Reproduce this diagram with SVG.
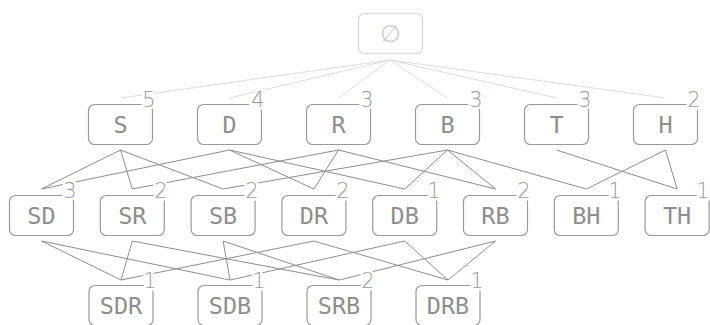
<svg xmlns="http://www.w3.org/2000/svg" width="710" height="325" viewBox="0 0 710 325">
<style>
.box{fill:none;stroke:#9a9a9a;stroke-width:1.2}
.top{fill:none;stroke:#d8d8d8;stroke-width:1.2}
.lbl{font-family:"DejaVu Sans Mono","Liberation Mono",monospace;font-size:23.5px;fill:#8e8e8e;text-anchor:middle}
.tlbl{font-family:"DejaVu Sans","Liberation Sans",sans-serif;font-size:24px;fill:#cfcfcf;text-anchor:middle;font-weight:200}
.num{font-family:"DejaVu Sans","Liberation Sans",sans-serif;font-size:21px;fill:#999;text-anchor:middle;font-weight:200;stroke:#fff;stroke-width:5;paint-order:stroke}
.e{stroke:#8c8c8c;stroke-width:1;fill:none}
.et{stroke:#dcdcdc;stroke-width:1;fill:none}
</style>
<rect width="710" height="325" fill="#fff"/>
<g id="connectors">
<g class="et">
<line x1="390" y1="60" x2="120.5" y2="98"/>
<line x1="390" y1="60" x2="229.5" y2="98"/>
<line x1="390" y1="60" x2="338.5" y2="98"/>
<line x1="390" y1="60" x2="447.5" y2="98"/>
<line x1="390" y1="60" x2="556.5" y2="98"/>
<line x1="390" y1="60" x2="665.5" y2="98"/>
</g>
<g class="e">
<line x1="120.5" y1="150" x2="41.5" y2="189"/>
<line x1="120.5" y1="150" x2="132.3" y2="189"/>
<line x1="120.5" y1="150" x2="223.1" y2="189"/>
<line x1="229.5" y1="150" x2="41.5" y2="189"/>
<line x1="229.5" y1="150" x2="313.9" y2="189"/>
<line x1="229.5" y1="150" x2="404.7" y2="189"/>
<line x1="338.5" y1="150" x2="132.3" y2="189"/>
<line x1="338.5" y1="150" x2="313.9" y2="189"/>
<line x1="338.5" y1="150" x2="495.5" y2="189"/>
<line x1="447.5" y1="150" x2="223.1" y2="189"/>
<line x1="447.5" y1="150" x2="404.7" y2="189"/>
<line x1="447.5" y1="150" x2="495.5" y2="189"/>
<line x1="447.5" y1="150" x2="586.3" y2="189"/>
<line x1="556.5" y1="150" x2="677.1" y2="189"/>
<line x1="665.5" y1="150" x2="586.3" y2="189"/>
<line x1="665.5" y1="150" x2="677.1" y2="189"/>
<line x1="41.5" y1="241" x2="121" y2="280"/>
<line x1="41.5" y1="241" x2="230" y2="280"/>
<line x1="132.3" y1="241" x2="121" y2="280"/>
<line x1="132.3" y1="241" x2="339" y2="280"/>
<line x1="223.1" y1="241" x2="230" y2="280"/>
<line x1="223.1" y1="241" x2="339" y2="280"/>
<line x1="313.9" y1="241" x2="121" y2="280"/>
<line x1="313.9" y1="241" x2="448" y2="280"/>
<line x1="404.7" y1="241" x2="230" y2="280"/>
<line x1="404.7" y1="241" x2="448" y2="280"/>
<line x1="495.5" y1="241" x2="339" y2="280"/>
<line x1="495.5" y1="241" x2="448" y2="280"/>
</g>
</g>
<g id="n-empty"><rect class="top" x="358.5" y="13.5" width="64" height="40" rx="6"/><text class="tlbl" x="390" y="42">∅</text></g>
<g id="n-S"><rect class="box" x="88.5" y="104.5" width="64" height="40" rx="6"/><text class="lbl" x="120.5" y="133">S</text><text class="num" x="149" y="107">5</text></g>
<g id="n-D"><rect class="box" x="197.5" y="104.5" width="64" height="40" rx="6"/><text class="lbl" x="229.5" y="133">D</text><text class="num" x="258" y="107">4</text></g>
<g id="n-R"><rect class="box" x="306.5" y="104.5" width="64" height="40" rx="6"/><text class="lbl" x="338.5" y="133">R</text><text class="num" x="367" y="107">3</text></g>
<g id="n-B"><rect class="box" x="415.5" y="104.5" width="64" height="40" rx="6"/><text class="lbl" x="447.5" y="133">B</text><text class="num" x="476" y="107">3</text></g>
<g id="n-T"><rect class="box" x="524.5" y="104.5" width="64" height="40" rx="6"/><text class="lbl" x="556.5" y="133">T</text><text class="num" x="585" y="107">3</text></g>
<g id="n-H"><rect class="box" x="633.5" y="104.5" width="64" height="40" rx="6"/><text class="lbl" x="665.5" y="133">H</text><text class="num" x="694" y="107">2</text></g>
<g id="n-SD"><rect class="box" x="9.5" y="195.5" width="64" height="40" rx="6"/><text class="lbl" x="41.5" y="224">SD</text><text class="num" x="70" y="198">3</text></g>
<g id="n-SR"><rect class="box" x="100.3" y="195.5" width="64" height="40" rx="6"/><text class="lbl" x="132.3" y="224">SR</text><text class="num" x="161" y="198">2</text></g>
<g id="n-SB"><rect class="box" x="191.1" y="195.5" width="64" height="40" rx="6"/><text class="lbl" x="223.1" y="224">SB</text><text class="num" x="252" y="198">2</text></g>
<g id="n-DR"><rect class="box" x="281.9" y="195.5" width="64" height="40" rx="6"/><text class="lbl" x="313.9" y="224">DR</text><text class="num" x="343" y="198">2</text></g>
<g id="n-DB"><rect class="box" x="372.7" y="195.5" width="64" height="40" rx="6"/><text class="lbl" x="404.7" y="224">DB</text><text class="num" x="434" y="198">1</text></g>
<g id="n-RB"><rect class="box" x="463.5" y="195.5" width="64" height="40" rx="6"/><text class="lbl" x="495.5" y="224">RB</text><text class="num" x="524" y="198">2</text></g>
<g id="n-BH"><rect class="box" x="554.3" y="195.5" width="64" height="40" rx="6"/><text class="lbl" x="586.3" y="224">BH</text><text class="num" x="615" y="198">1</text></g>
<g id="n-TH"><rect class="box" x="645.1" y="195.5" width="64" height="40" rx="6"/><text class="lbl" x="677.1" y="224">TH</text><text class="num" x="703" y="198">1</text></g>
<g id="n-SDR"><rect class="box" x="89" y="285.5" width="64" height="40" rx="6"/><text class="lbl" x="121" y="314">SDR</text><text class="num" x="150" y="288">1</text></g>
<g id="n-SDB"><rect class="box" x="198" y="285.5" width="64" height="40" rx="6"/><text class="lbl" x="230" y="314">SDB</text><text class="num" x="259" y="288">1</text></g>
<g id="n-SRB"><rect class="box" x="307" y="285.5" width="64" height="40" rx="6"/><text class="lbl" x="339" y="314">SRB</text><text class="num" x="368" y="288">2</text></g>
<g id="n-DRB"><rect class="box" x="416" y="285.5" width="64" height="40" rx="6"/><text class="lbl" x="448" y="314">DRB</text><text class="num" x="477" y="288">1</text></g>
</svg>
